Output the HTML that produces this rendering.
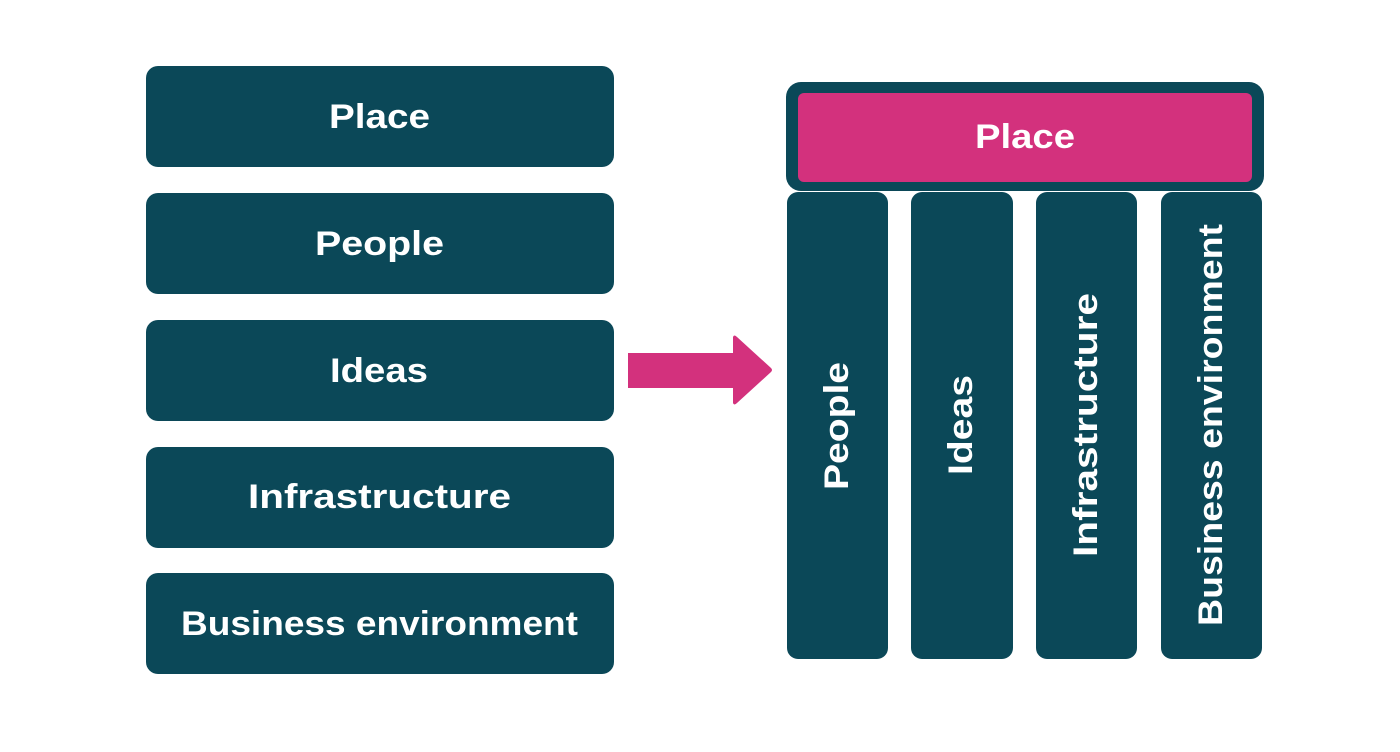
<!DOCTYPE html>
<html><head><meta charset="utf-8"><style>
html,body{margin:0;padding:0;background:#fff;}
svg{display:block}
text{font-family:"Liberation Sans",sans-serif;font-weight:bold;fill:#fff;font-size:34px}
</style></head><body>
<svg width="1400" height="752" viewBox="0 0 1400 752">
<g fill="#0b4858">
<rect x="146" y="66" width="468" height="101" rx="12"/>
<rect x="146" y="193" width="468" height="101" rx="12"/>
<rect x="146" y="320" width="468" height="101" rx="12"/>
<rect x="146" y="447" width="468" height="101" rx="12"/>
<rect x="146" y="573" width="468" height="101" rx="12"/>
<rect x="786" y="82" width="478" height="109" rx="15"/>
<rect x="787" y="192" width="101" height="467" rx="11"/>
<rect x="911" y="192" width="102" height="467" rx="11"/>
<rect x="1036" y="192" width="101" height="467" rx="11"/>
<rect x="1161" y="192" width="101" height="467" rx="11"/>
</g>
<rect x="798" y="93" width="454" height="89" rx="6" fill="#d3317d"/>
<path d="M628 353 H733 V337 Q734 334 737 337 L771 368 Q773 370 771 372 L737 403 Q734 406 733 403 V388 H628 Z" fill="#d3317d"/>
<text x="329" y="128" textLength="101" lengthAdjust="spacingAndGlyphs">Place</text>
<text x="315" y="255" textLength="129" lengthAdjust="spacingAndGlyphs">People</text>
<text x="330" y="382" textLength="98" lengthAdjust="spacingAndGlyphs">Ideas</text>
<text x="248" y="508" textLength="263" lengthAdjust="spacingAndGlyphs">Infrastructure</text>
<text x="181" y="635" textLength="397" lengthAdjust="spacingAndGlyphs">Business environment</text>
<text x="975" y="148" textLength="100" lengthAdjust="spacingAndGlyphs">Place</text>
<text transform="translate(848,490) rotate(-90)" textLength="128" lengthAdjust="spacingAndGlyphs">People</text>
<text transform="translate(972,475) rotate(-90)" textLength="100" lengthAdjust="spacingAndGlyphs">Ideas</text>
<text transform="translate(1097,557) rotate(-90)" textLength="264" lengthAdjust="spacingAndGlyphs">Infrastructure</text>
<text transform="translate(1222,626) rotate(-90)" textLength="402" lengthAdjust="spacingAndGlyphs">Business environment</text>
</svg>
</body></html>
